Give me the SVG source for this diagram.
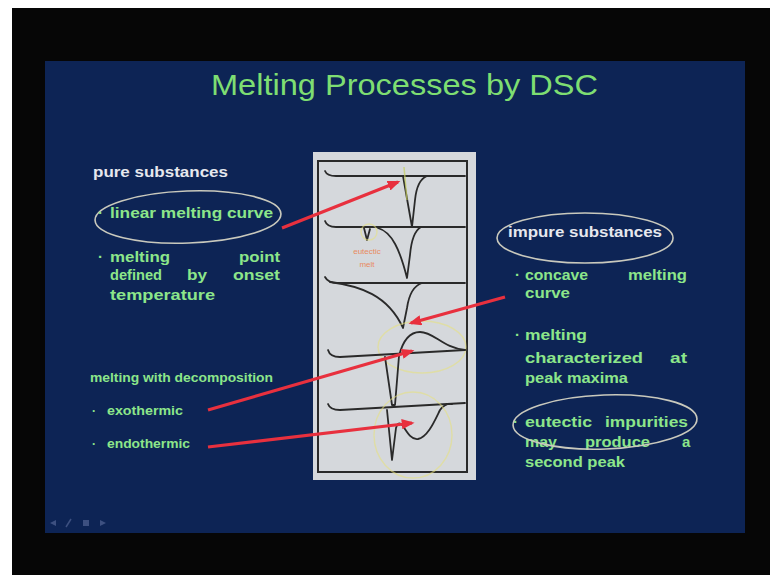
<svg xmlns="http://www.w3.org/2000/svg" width="770" height="583" viewBox="0 0 770 583">
<defs>
<style>
.t{font-family:"Liberation Sans","DejaVu Sans",sans-serif;font-size:15px;fill:#8ce68a;font-weight:bold}
.w{fill:#e6e8ee}
.s{font-size:12px}
.c{fill:none;stroke:#2a2a2a;stroke-width:1.8;stroke-linejoin:round;stroke-linecap:round}
.e{fill:none;stroke:#c9c9bd;stroke-width:1.6}
.y{fill:none;stroke:#e8e27a;stroke-width:1.4;opacity:0.55}
.a{stroke:#e8303e;stroke-width:3.2;fill:none;marker-end:url(#ah)}
</style>
<marker id="ah" viewBox="0 0 10 8" refX="8" refY="4" markerWidth="4" markerHeight="3.2" orient="auto" markerUnits="strokeWidth">
<path d="M0,0 L10,4 L0,8 Z" fill="#e8303e"/>
</marker>
</defs>
<rect width="770" height="583" fill="#ffffff"/>
<rect x="12" y="8" width="758" height="567" fill="#060606"/>
<rect x="45" y="61" width="700" height="472" fill="#0d2455"/>
<g id="nav" fill="#3d5080">
<path d="M50,523 L56,520 L56,526 Z"/>
<path d="M66,527 L71,519" stroke="#3d5080" stroke-width="1.5"/>
<rect x="83" y="520" width="6" height="6"/>
<path d="M100,520 L106,523 L100,526 Z"/>
</g>
<text id="title" x="211" y="95" textLength="387" lengthAdjust="spacingAndGlyphs" style="font-family:'Liberation Sans','DejaVu Sans',sans-serif;font-size:29px;fill:#7ede72">Melting Processes by DSC</text>

<g id="pure">
<text class="t w" x="93" y="177" textLength="135" lengthAdjust="spacingAndGlyphs">pure substances</text>
<ellipse class="e" cx="188" cy="217" rx="93" ry="26" transform="rotate(-2 188 217)"/>
<text class="t" x="98" y="218">·</text>
<text class="t" x="110" y="218" textLength="163" lengthAdjust="spacingAndGlyphs">linear melting curve</text>
<text class="t" x="98" y="262">·</text>
<text class="t" x="110" y="262" textLength="60" lengthAdjust="spacingAndGlyphs">melting</text>
<text class="t" x="239" y="262" textLength="41" lengthAdjust="spacingAndGlyphs">point</text>
<text class="t" x="110" y="280" textLength="52" lengthAdjust="spacingAndGlyphs">defined</text>
<text class="t" x="187" y="280" textLength="20" lengthAdjust="spacingAndGlyphs">by</text>
<text class="t" x="233" y="280" textLength="47" lengthAdjust="spacingAndGlyphs">onset</text>
<text class="t" x="110" y="300" textLength="105" lengthAdjust="spacingAndGlyphs">temperature</text>
</g>

<g id="decomp">
<text class="t s" x="90" y="382" textLength="183" lengthAdjust="spacingAndGlyphs">melting with decomposition</text>
<text class="t s" x="92" y="415">·</text>
<text class="t s" x="107" y="415" textLength="76" lengthAdjust="spacingAndGlyphs">exothermic</text>
<text class="t s" x="92" y="448">·</text>
<text class="t s" x="107" y="448" textLength="83" lengthAdjust="spacingAndGlyphs">endothermic</text>
</g>

<g id="impure">
<text class="t w" x="508" y="237" textLength="154" lengthAdjust="spacingAndGlyphs">impure substances</text>
<ellipse class="e" cx="585" cy="238" rx="88" ry="25"/>
<text class="t" x="515" y="280">·</text>
<text class="t" x="525" y="280" textLength="63" lengthAdjust="spacingAndGlyphs">concave</text>
<text class="t" x="628" y="280" textLength="59" lengthAdjust="spacingAndGlyphs">melting</text>
<text class="t" x="525" y="298" textLength="45" lengthAdjust="spacingAndGlyphs">curve</text>
<text class="t" x="515" y="340">·</text>
<text class="t" x="525" y="340" textLength="62" lengthAdjust="spacingAndGlyphs">melting</text>
<text class="t" x="525" y="363" textLength="118" lengthAdjust="spacingAndGlyphs">characterized</text>
<text class="t" x="670" y="363" textLength="17" lengthAdjust="spacingAndGlyphs">at</text>
<text class="t" x="525" y="383" textLength="103" lengthAdjust="spacingAndGlyphs">peak maxima</text>
<text class="t" x="513" y="427">·</text>
<text class="t" x="525" y="427" textLength="67" lengthAdjust="spacingAndGlyphs">eutectic</text>
<text class="t" x="605" y="427" textLength="83" lengthAdjust="spacingAndGlyphs">impurities</text>
<text class="t" x="525" y="447" textLength="32" lengthAdjust="spacingAndGlyphs">may</text>
<text class="t" x="585" y="447" textLength="65" lengthAdjust="spacingAndGlyphs">produce</text>
<text class="t" x="682" y="447">a</text>
<text class="t" x="525" y="467" textLength="100" lengthAdjust="spacingAndGlyphs">second peak</text>
<ellipse class="e" cx="605" cy="422" rx="92" ry="27" transform="rotate(-2 605 422)"/>
</g>

<g id="dsc-panel">
<rect x="313" y="152" width="163" height="328" fill="#d5d8dc"/>
<rect x="318" y="161" width="149" height="311" fill="none" stroke="#2a2a2a" stroke-width="2"/>
<path class="c" d="M325,171 Q327,176 336,176 L465,176"/>
<path class="c" d="M403,176 L412,227 L415,200 Q417,180 427,176"/>
<path d="M404,167 L407,200" stroke="#c8d060" stroke-width="1.5" opacity="0.7"/>
<path class="c" d="M325,221 Q327,227 336,227 L465,227"/>
<path class="c" d="M364,228 L367,240 L370,229"/>
<circle class="y" cx="369" cy="232" r="8"/>
<path class="c" d="M378,228 C392,232 400,250 407,278 L410,255 Q412,232 421,227"/>
<text x="367" y="254" text-anchor="middle" style="font-family:'Liberation Sans',sans-serif;font-size:8px;fill:#e88a60">eutectic</text>
<text x="367" y="267" text-anchor="middle" style="font-family:'Liberation Sans',sans-serif;font-size:8px;fill:#e88a60">melt</text>
<path class="c" d="M325,277 Q328,283 338,283 L465,283"/>
<path class="c" d="M330,282 C360,286 388,295 403,328 L407,308 Q410,287 422,283"/>
<ellipse class="y" cx="422" cy="347" rx="44" ry="26"/>
<path class="c" d="M328,350 Q330,357 340,357 L465,350"/>
<path class="c" d="M385,357 L392,405 L395,405 L399,356 C403,340 410,332 420,332 C434,332 443,348 465,350"/>
<path class="c" d="M328,404 Q330,410 340,410 L465,403"/>
<path class="c" d="M387,410 L392,460 L396,428 Q398,420 403,426 C408,434 412,440 418,439 C428,437 435,420 440,410 Q445,403 452,404"/>
<ellipse class="y" cx="413" cy="435" rx="39" ry="43"/>
</g>

<g id="connectors">
<path class="a" d="M282,228 L398,182"/>
<path class="a" d="M505,297 L411,323"/>
<path class="a" d="M208,410 L412,351"/>
<path class="a" d="M208,447 L412,423"/>
</g>
</svg>
